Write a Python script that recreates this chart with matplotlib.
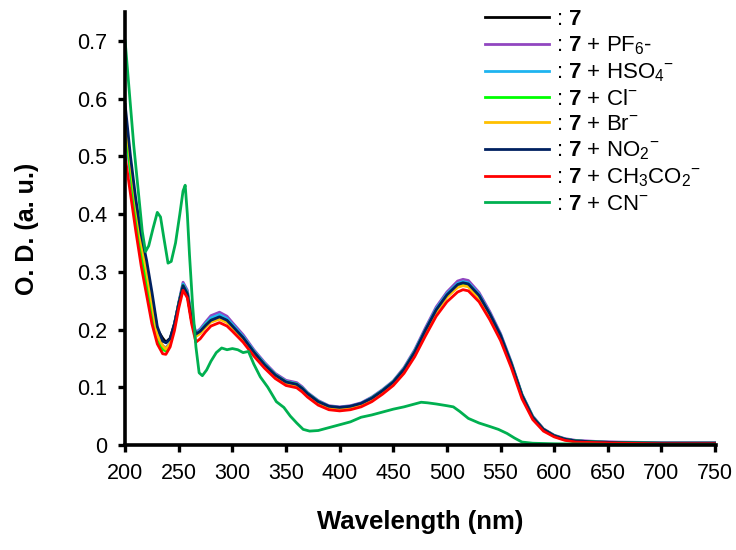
import numpy as np
import matplotlib.pyplot as plt
from matplotlib.ticker import FuncFormatter

plt.rcParams['font.family'] = ['Liberation Sans', 'DejaVu Sans']
plt.rcParams['mathtext.fontset'] = 'custom'
plt.rcParams['mathtext.rm'] = 'Liberation Sans'
plt.rcParams['mathtext.bf'] = 'Liberation Sans:bold'
plt.rcParams['mathtext.it'] = 'Liberation Sans:italic'

# wavelength grid shared by the seven similar spectra
wl = [200, 205, 210, 215, 220, 225, 230, 235, 238, 242, 246, 250, 254, 258, 262, 266,
      270, 275, 280, 288, 295, 300, 310, 320, 330, 340, 350, 360, 365, 370, 380, 390,
      400, 410, 420, 430, 440, 450, 460, 470, 480, 490, 500, 510, 515, 520, 530, 540,
      550, 560, 570, 580, 590, 600, 610, 620, 640, 660, 700, 750]

od_7 = [0.57, 0.485, 0.41, 0.35, 0.305, 0.255, 0.20, 0.185, 0.178, 0.185, 0.21, 0.245, 0.275, 0.26, 0.215, 0.19,
        0.195, 0.205, 0.215, 0.222, 0.215, 0.205, 0.185, 0.16, 0.138, 0.12, 0.108, 0.104, 0.097, 0.088, 0.074, 0.066,
        0.064, 0.066, 0.071, 0.080, 0.093, 0.108, 0.130, 0.160, 0.197, 0.232, 0.258, 0.276, 0.279, 0.277, 0.257, 0.225,
        0.188, 0.140, 0.085, 0.048, 0.027, 0.016, 0.010, 0.007, 0.005, 0.004, 0.003, 0.003]

od_pf6 = [0.545, 0.47, 0.40, 0.34, 0.29, 0.24, 0.19, 0.172, 0.168, 0.178, 0.207, 0.247, 0.282, 0.268, 0.222, 0.195,
          0.201, 0.213, 0.224, 0.230, 0.223, 0.212, 0.191, 0.165, 0.143, 0.124, 0.112, 0.108, 0.101, 0.091, 0.077, 0.068,
          0.066, 0.068, 0.073, 0.083, 0.096, 0.111, 0.134, 0.165, 0.203, 0.239, 0.265, 0.284, 0.287, 0.285, 0.264, 0.231,
          0.193, 0.144, 0.088, 0.050, 0.028, 0.017, 0.011, 0.008, 0.006, 0.005, 0.004, 0.004]

od_hso4 = [0.55, 0.475, 0.40, 0.34, 0.29, 0.24, 0.19, 0.17, 0.166, 0.178, 0.208, 0.246, 0.279, 0.265, 0.22, 0.193,
           0.199, 0.21, 0.22, 0.226, 0.219, 0.209, 0.188, 0.163, 0.141, 0.122, 0.110, 0.106, 0.099, 0.090, 0.076, 0.067,
           0.065, 0.067, 0.072, 0.082, 0.095, 0.110, 0.132, 0.163, 0.200, 0.236, 0.262, 0.280, 0.283, 0.281, 0.261, 0.228,
           0.191, 0.142, 0.087, 0.049, 0.027, 0.016, 0.010, 0.007, 0.005, 0.004, 0.003, 0.003]

od_cl = [0.56, 0.475, 0.395, 0.33, 0.28, 0.23, 0.18, 0.165, 0.163, 0.175, 0.205, 0.244, 0.276, 0.262, 0.218, 0.19,
         0.196, 0.207, 0.216, 0.221, 0.215, 0.205, 0.185, 0.161, 0.139, 0.121, 0.109, 0.105, 0.098, 0.089, 0.075, 0.066,
         0.064, 0.066, 0.071, 0.081, 0.094, 0.109, 0.131, 0.161, 0.198, 0.233, 0.259, 0.277, 0.280, 0.278, 0.258, 0.226,
         0.189, 0.141, 0.086, 0.048, 0.027, 0.016, 0.010, 0.007, 0.005, 0.004, 0.003, 0.003]

od_br = [0.57, 0.49, 0.415, 0.35, 0.30, 0.245, 0.19, 0.172, 0.166, 0.176, 0.205, 0.243, 0.274, 0.26, 0.216, 0.188,
         0.193, 0.204, 0.213, 0.218, 0.212, 0.203, 0.183, 0.159, 0.137, 0.119, 0.107, 0.103, 0.096, 0.087, 0.073, 0.065,
         0.063, 0.065, 0.070, 0.079, 0.092, 0.107, 0.129, 0.159, 0.195, 0.230, 0.256, 0.273, 0.276, 0.274, 0.254, 0.223,
         0.186, 0.139, 0.084, 0.047, 0.026, 0.015, 0.009, 0.006, 0.004, 0.003, 0.002, 0.002]

od_no2 = [0.59, 0.50, 0.425, 0.365, 0.32, 0.265, 0.205, 0.18, 0.177, 0.184, 0.21, 0.245, 0.276, 0.262, 0.217, 0.192,
          0.197, 0.207, 0.216, 0.222, 0.216, 0.206, 0.186, 0.161, 0.139, 0.121, 0.109, 0.105, 0.098, 0.089, 0.075, 0.067,
          0.065, 0.067, 0.072, 0.081, 0.094, 0.109, 0.131, 0.161, 0.199, 0.234, 0.260, 0.278, 0.281, 0.279, 0.259, 0.227,
          0.190, 0.141, 0.086, 0.048, 0.027, 0.016, 0.010, 0.007, 0.005, 0.004, 0.003, 0.003]

od_ac = [0.50, 0.435, 0.37, 0.31, 0.26, 0.21, 0.175, 0.158, 0.157, 0.17, 0.198, 0.237, 0.268, 0.255, 0.21, 0.178,
         0.184, 0.196, 0.206, 0.212, 0.206, 0.197, 0.178, 0.154, 0.133, 0.115, 0.103, 0.099, 0.092, 0.083, 0.069, 0.061,
         0.059, 0.061, 0.066, 0.075, 0.088, 0.103, 0.124, 0.153, 0.189, 0.223, 0.248, 0.265, 0.269, 0.267, 0.248, 0.217,
         0.181, 0.134, 0.080, 0.044, 0.024, 0.014, 0.008, 0.005, 0.004, 0.003, 0.002, 0.002]

# CN- spectrum on its own grid
wl_cn = [200, 204, 208, 212, 216, 219, 222, 226, 230, 233, 236, 240, 243, 247, 251, 254, 256, 258, 260, 263,
         266, 269, 272, 276, 280, 285, 290, 295, 300, 305, 310, 315, 320, 326, 333, 341, 348, 354, 360, 366,
         372, 380, 390, 400, 410, 420, 430, 440, 450, 460, 470, 476, 482, 490, 500, 506, 512, 520, 530, 540,
         548, 556, 563, 570, 580, 600, 650, 700, 750]
od_cn = [0.70, 0.61, 0.52, 0.445, 0.37, 0.335, 0.345, 0.375, 0.403, 0.395, 0.36, 0.315, 0.318, 0.35, 0.40, 0.44, 0.45, 0.40, 0.33, 0.24,
         0.17, 0.125, 0.12, 0.13, 0.145, 0.16, 0.168, 0.165, 0.167, 0.165, 0.16, 0.162, 0.14, 0.118, 0.10, 0.075, 0.065, 0.05, 0.038, 0.027,
         0.024, 0.025, 0.03, 0.035, 0.04, 0.048, 0.052, 0.057, 0.062, 0.066, 0.071, 0.074, 0.073, 0.071, 0.068, 0.066, 0.058, 0.046, 0.038, 0.032,
         0.027, 0.02, 0.012, 0.005, 0.003, 0.002, 0.001, 0.001, 0.001]

labels = [r': $\mathbf{7}$', r': $\mathbf{7}$ + PF$_6$-', r': $\mathbf{7}$ + HSO$_4$$^{-}$',
          r': $\mathbf{7}$ + Cl$^{-}$', r': $\mathbf{7}$ + Br$^{-}$', r': $\mathbf{7}$ + NO$_2$$^{-}$',
          r': $\mathbf{7}$ + CH$_3$CO$_2$$^{-}$', r': $\mathbf{7}$ + CN$^{-}$']
colors = ['#000000', '#9146C0', '#1EB4F0', '#00FF00', '#FFC000', '#002060', '#FF0000', '#00B050']

fig = plt.figure(figsize=(7.36, 5.5), dpi=100)
ax = fig.add_axes([0.170, 0.191, 0.803, 0.787])

series = [od_7, od_pf6, od_hso4, od_cl, od_br, od_no2, od_ac]
for y, c, lab in zip(series, colors[:7], labels[:7]):
    ax.plot(wl, y, color=c, lw=2, label=lab)
ax.plot(wl_cn, od_cn, color=colors[7], lw=2, label=labels[7])

ax.set_xlim(200, 751)
ax.set_ylim(0, 0.75)
ax.set_xticks(np.arange(200, 751, 50))
ax.set_yticks(np.arange(0, 0.71, 0.1))
ax.yaxis.set_major_formatter(FuncFormatter(lambda v, p: '0' if abs(v) < 1e-9 else '%.1f' % v))

for s in ['top', 'right']:
    ax.spines[s].set_visible(False)
for s in ['left', 'bottom']:
    ax.spines[s].set_linewidth(2.6)
ax.tick_params(width=2.4, length=5, labelsize=15.5, pad=8)

ax.set_xlabel('Wavelength (nm)', fontsize=18.5, fontweight='bold', labelpad=19)
ax.set_ylabel('O. D. (a. u.)', fontsize=18, fontweight='bold', labelpad=27)

ax.legend(loc='upper left', bbox_to_anchor=(485 / 736, 1 - 9 / 550), bbox_transform=fig.transFigure,
          frameon=False, fontsize=16, borderpad=0, borderaxespad=0,
          handlelength=2.9, handletextpad=0.3, labelspacing=0.2)

plt.savefig('out.png')
